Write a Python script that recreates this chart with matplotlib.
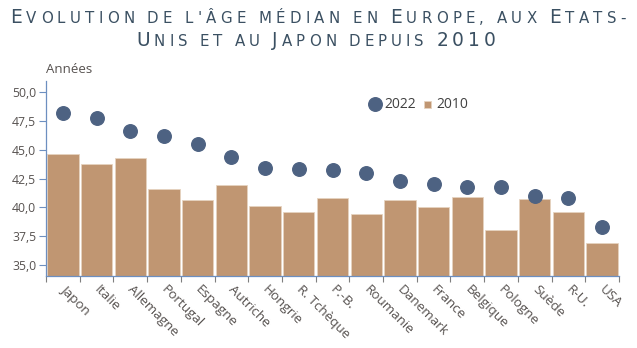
import matplotlib
matplotlib.use("Agg")
import matplotlib.pyplot as plt
import numpy as np
from matplotlib.transforms import IdentityTransform, ScaledTranslation

pays = ["Japon", "Italie", "Allemagne", "Portugal", "Espagne", "Autriche",
        "Hongrie", "R. Tchèque", "P.-B.", "Roumanie", "Danemark", "France",
        "Belgique", "Pologne", "Suède", "R-U.", "USA"]
age_2010 = [44.6, 43.8, 44.3, 41.6, 40.6, 41.9, 40.1, 39.6, 40.8, 39.4,
            40.6, 40.0, 40.9, 38.0, 40.7, 39.6, 36.9]
age_2022 = [48.2, 47.8, 46.6, 46.2, 45.5, 44.4, 43.4, 43.3, 43.2, 43.0,
            42.3, 42.0, 41.8, 41.8, 41.0, 40.8, 38.3]
y_ticks = [35.0, 37.5, 40.0, 42.5, 45.0, 47.5, 50.0]

BAR = "#c09672"
DOT = "#4d6282"
TXT = "#575250"
AXE = "#6d8fc0"
TITRE = "#3b5062"

plt.rcParams["font.family"] = ["Open Sans", "DejaVu Sans"]

fig = plt.figure(figsize=(6.37, 3.48), dpi=100)
ax = fig.add_axes([46 / 637, 1 - 276 / 348, 573 / 637, 195 / 348])

x = np.arange(len(pays))
ax.bar(x, age_2010, width=0.93, bottom=0, color=BAR, edgecolor="#e6d3c0",
       linewidth=0.6, label="2010", zorder=2)
ax.scatter(x, age_2022, s=95, color=DOT, zorder=3, label="2022")

ax.set_xlim(-0.5, len(pays) - 0.5)
ax.set_ylim(34, 51)
ax.set_yticks(y_ticks)
ax.set_yticklabels([f"{v:.1f}".replace(".", ",") for v in y_ticks],
                   fontsize=8.8, color=TXT)
ax.tick_params(axis="y", length=5, width=0.8, color=AXE, pad=2)

# libellés au centre, petits traits entre les catégories
ax.set_xticks(x)
ax.set_xticklabels(pays, rotation=-45, ha="left", va="top",
                   rotation_mode="anchor", fontsize=9.7, color=TXT)
ax.tick_params(axis="x", which="major", length=0, pad=5)
ax.set_xticks(np.arange(len(pays) + 1) - 0.5, minor=True)
ax.tick_params(axis="x", which="minor", length=4, width=0.8, color="#7f7f7f")
for lab in ax.get_xticklabels():
    lab.set_transform(lab.get_transform() + ScaledTranslation(3 / 72, 0, fig.dpi_scale_trans))

for side in ["top", "right"]:
    ax.spines[side].set_visible(False)
for side in ["left", "bottom"]:
    ax.spines[side].set_color(AXE)
    ax.spines[side].set_linewidth(0.9)

ax.text(0, 1.025, "Années", transform=ax.transAxes, fontsize=9.5,
        color=TXT, ha="left", va="bottom")

handles, labels = ax.get_legend_handles_labels()
order = [labels.index("2022"), labels.index("2010")]
leg = ax.legend([handles[i] for i in order], [labels[i] for i in order],
                loc="center", bbox_to_anchor=(0.653, 0.88), ncol=2,
                frameon=False, fontsize=10, handlelength=0.5,
                handletextpad=0.4, columnspacing=0.6, borderaxespad=0)
for t in leg.get_texts():
    t.set_color("#404040")
leg.legend_handles[1].set_height(5)
leg.legend_handles[1].set_width(5)


def petites_capitales(texte, cx, baseline, grand, petit, largeur):
    """Titre en petites capitales, lettres espacées sur la largeur voulue."""
    rend = fig.canvas.get_renderer()
    h = fig.get_figheight() * fig.dpi
    morceaux = []
    for c in texte:
        if c == " ":
            morceaux.append((None, grand * 0.3))
            continue
        taille = grand if (c.isupper() or c.isdigit()) else petit
        t = fig.text(0, 0, c.upper(), fontsize=taille, color=TITRE,
                     family="DejaVu Sans", transform=IdentityTransform(),
                     ha="left", va="baseline")
        morceaux.append((t, t.get_window_extent(rend).width))
    nat = sum(w for _, w in morceaux)
    extra = (largeur - nat) / (len(morceaux) - 1)
    pos = cx - largeur / 2
    for t, w in morceaux:
        if t is not None:
            t.set_position((pos, h - baseline))
        pos += w + extra


petites_capitales("Evolution de l'âge médian en Europe, aux Etats-",
                  318, 23, 13.4, 10.8, 616)
petites_capitales("Unis et au Japon depuis 2010", 316, 45.5, 13.4, 10.8, 360)

fig.savefig("out.png", dpi=100)
